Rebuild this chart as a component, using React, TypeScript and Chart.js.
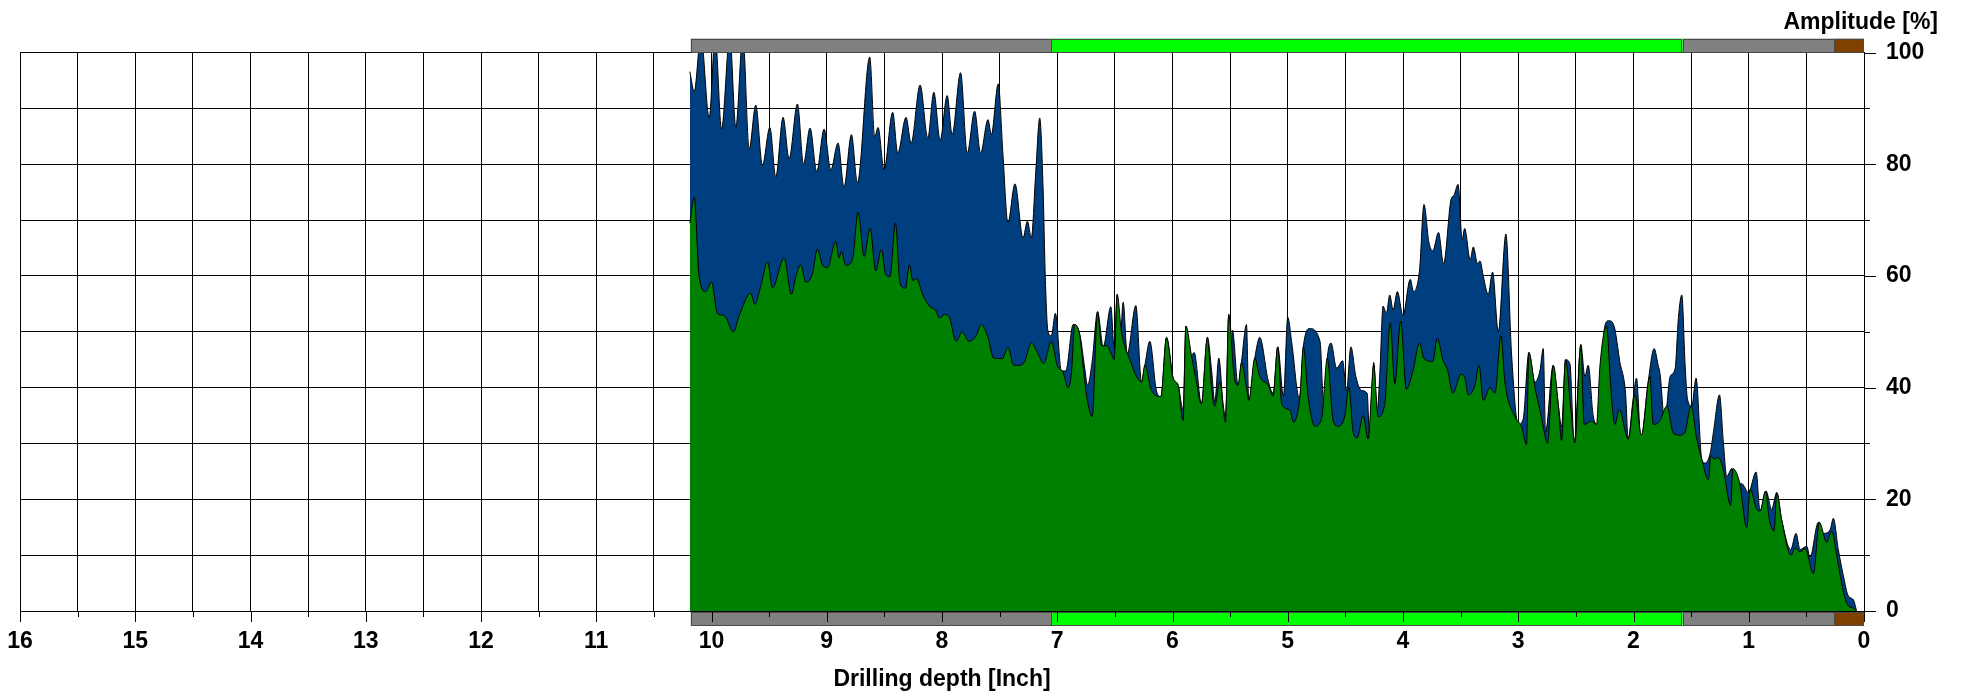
import { useEffect, useRef } from 'react';
import { Chart, registerables } from 'chart.js';

Chart.register(...registerables);

const FONT = "'Liberation Sans', Arial, Helvetica, sans-serif";

// Maximum amplitude (blue)
const blueDepth = [
  10.188, 10.15, 10.092, 10.02, 9.968, 9.913, 9.841, 9.789, 9.728, 9.673, 9.616, 9.558, 9.494, 9.442, 9.379, 9.327,
  9.254, 9.202, 9.145, 9.087, 9.023, 8.965, 8.902, 8.85, 8.786, 8.734, 8.627, 8.584, 8.555, 8.503, 8.428, 8.384,
  8.312, 8.268, 8.19, 8.123, 8.071, 8.016, 7.955, 7.912, 7.839, 7.781, 7.717, 7.665, 7.601, 7.572, 7.512, 7.471,
  7.428, 7.367, 7.297, 7.259, 7.225, 7.187, 7.152, 7.123, 7.103, 7.08, 7.051, 7.016, 6.964, 6.926, 6.862, 6.804,
  6.761, 6.737, 6.697, 6.65, 6.601, 6.535, 6.506, 6.48, 6.457, 6.428, 6.393, 6.318, 6.269, 6.24, 6.197, 6.139,
  6.101, 6.052, 5.994, 5.951, 5.908, 5.884, 5.835, 5.812, 5.749, 5.697, 5.662, 5.633, 5.598, 5.561, 5.54, 5.512,
  5.494, 5.48, 5.431, 5.402, 5.358, 5.338, 5.286, 5.243, 5.171, 5.127, 5.087, 5.037, 5.0, 4.965, 4.899, 4.865,
  4.813, 4.72, 4.686, 4.657, 4.625, 4.576, 4.524, 4.49, 4.452, 4.409, 4.36, 4.311, 4.29, 4.254, 4.225, 4.2,
  4.173, 4.144, 4.115, 4.086, 4.049, 4.0, 3.937, 3.908, 3.856, 3.818, 3.775, 3.741, 3.692, 3.648, 3.582, 3.559,
  3.522, 3.487, 3.465, 3.417, 3.39, 3.353, 3.332, 3.303, 3.26, 3.223, 3.173, 3.107, 3.058, 3.0, 2.957, 2.908,
  2.855, 2.812, 2.783, 2.763, 2.697, 2.653, 2.624, 2.59, 2.552, 2.514, 2.457, 2.422, 2.393, 2.35, 2.312, 2.277,
  2.249, 2.214, 2.168, 2.119, 2.069, 2.046, 2.003, 1.974, 1.936, 1.873, 1.821, 1.786, 1.769, 1.73, 1.682, 1.639,
  1.61, 1.581, 1.552, 1.532, 1.494, 1.457, 1.408, 1.379, 1.335, 1.306, 1.254, 1.22, 1.191, 1.147, 1.104, 1.061,
  1.003, 0.936, 0.902, 0.85, 0.801, 0.757, 0.714, 0.636, 0.59, 0.555, 0.497, 0.468, 0.396, 0.353, 0.295, 0.266,
  0.223, 0.179, 0.136, 0.092, 0.064,
];
const blueAmp = [
  96.6, 93, 103, 88.3, 103, 86.3, 103, 86.6, 103, 82.7, 90.6, 79.8, 86.6, 77.7, 88.4, 81,
  90.8, 80, 86.5, 78.7, 86.3, 79, 83.8, 75.9, 85.3, 76.7, 99.2, 84.9, 86.6, 79, 89.3, 82,
  88.4, 83.8, 94.2, 84.7, 92.9, 84.3, 92.3, 85.3, 96.4, 82, 89.5, 82, 88, 85.3, 94.4, 81.7,
  69.5, 76.5, 66.8, 69.8, 66.8, 78.4, 88.3, 75.7, 59.2, 50, 49.3, 53.3, 43, 43, 51.3, 49.5,
  43.4, 40.4, 44.7, 53.6, 47.3, 54.5, 47, 56.7, 47, 55.3, 46, 54.7, 41, 44, 48.3, 39.4,
  38.4, 49, 41.7, 40.4, 36, 51, 45.7, 46.3, 37.1, 49, 43.4, 37.5, 45.3, 37, 35, 53.1,
  45, 50.3, 40.4, 44.5, 51.3, 37.7, 45.3, 49, 41.4, 39, 47.3, 38.5, 52.6, 48, 38, 47.3,
  50.6, 48.3, 36, 45.3, 48, 43.5, 44.8, 39.4, 47.3, 42, 39.5, 39, 31, 44.5, 35.5, 43,
  54.6, 53.3, 56.6, 53.9, 57.2, 52.9, 59.4, 57.2, 61.2, 72.8, 66, 64.5, 67.8, 62.2, 73.8, 74.4,
  76.4, 66.5, 68.5, 62.9, 65.2, 62.2, 62.7, 59.9, 56.7, 60.7, 50, 67.5, 46, 33.4, 34.4, 46.3,
  41, 43, 47, 32, 44, 37, 33, 45, 44.3, 30.1, 47.7, 42, 44, 35, 33.4, 43.7,
  51, 52, 51, 44.7, 39, 30.8, 38, 41.7, 30.8, 41, 47, 44, 42.4, 34, 42, 43.4,
  52.6, 56.6, 44, 38, 36.7, 41.7, 27.2, 26.5, 28.2, 32.1, 38.7, 30.1, 24.1, 25.5, 22.8, 22.8,
  21.2, 24.9, 17.9, 21.5, 18.2, 21.2, 16.3, 11, 13.9, 11, 11.6, 9.6, 15.9, 13.9, 14.5, 16.6,
  11, 6.3, 2.7, 2, 0,
];

// Average amplitude (green)
const greenDepth = [
  10.188, 10.15, 10.107, 10.049, 10.0, 9.948, 9.89, 9.809, 9.76, 9.659, 9.624, 9.572, 9.514, 9.471, 9.37, 9.306,
  9.269, 9.225, 9.182, 9.124, 9.081, 9.038, 8.994, 8.922, 8.893, 8.873, 8.835, 8.777, 8.728, 8.676, 8.624, 8.575,
  8.526, 8.488, 8.451, 8.404, 8.364, 8.317, 8.283, 8.254, 8.219, 8.167, 8.109, 8.057, 8.022, 7.978, 7.935, 7.877,
  7.825, 7.767, 7.703, 7.659, 7.601, 7.552, 7.477, 7.428, 7.378, 7.326, 7.283, 7.225, 7.181, 7.117, 7.051, 7.001,
  6.949, 6.906, 6.878, 6.849, 6.804, 6.77, 6.746, 6.697, 6.65, 6.615, 6.572, 6.529, 6.506, 6.48, 6.443, 6.37,
  6.312, 6.269, 6.24, 6.182, 6.101, 6.052, 5.994, 5.951, 5.908, 5.884, 5.835, 5.801, 5.749, 5.697, 5.662, 5.633,
  5.59, 5.54, 5.512, 5.465, 5.431, 5.402, 5.358, 5.338, 5.286, 5.243, 5.171, 5.127, 5.087, 5.052, 4.98, 4.951,
  4.893, 4.865, 4.821, 4.764, 4.706, 4.657, 4.605, 4.562, 4.504, 4.47, 4.432, 4.398, 4.346, 4.303, 4.254, 4.216,
  4.159, 4.11, 4.072, 4.02, 3.971, 3.914, 3.856, 3.821, 3.741, 3.703, 3.654, 3.611, 3.568, 3.496, 3.462, 3.434,
  3.376, 3.341, 3.303, 3.246, 3.202, 3.15, 3.116, 3.029, 2.971, 2.928, 2.908, 2.855, 2.812, 2.769, 2.746, 2.697,
  2.653, 2.624, 2.59, 2.543, 2.509, 2.457, 2.428, 2.364, 2.321, 2.292, 2.234, 2.197, 2.162, 2.124, 2.046, 1.988,
  1.931, 1.858, 1.829, 1.772, 1.711, 1.653, 1.595, 1.552, 1.5, 1.451, 1.408, 1.35, 1.329, 1.301, 1.263, 1.22,
  1.156, 1.139, 1.081, 1.017, 0.988, 0.931, 0.902, 0.855, 0.821, 0.78, 0.757, 0.714, 0.633, 0.598, 0.555, 0.512,
  0.439, 0.387, 0.324, 0.28, 0.237, 0.194, 0.15, 0.084, 0.064,
];
const greenAmp = [
  69.5, 74.1, 59.9, 57.2, 58.9, 53.3, 52.9, 50, 52.9, 56.9, 54.9, 58.2, 62.5, 57.9, 63.2, 56.7,
  59.9, 62, 58.9, 60.4, 64.8, 62, 61.5, 66.2, 63.2, 64.4, 61.9, 62.9, 71.4, 63.5, 68.5, 60.9,
  64.8, 60.2, 59.9, 69.5, 58.6, 57.8, 62, 59.2, 59.5, 56.6, 54.6, 53.9, 52.5, 53.1, 52.5, 48.3,
  50, 48.3, 49.3, 51.3, 49, 45.3, 45.2, 47.2, 44, 44, 44.7, 48, 46.7, 44.3, 48.3, 44,
  42.7, 40, 42.4, 51.3, 49.3, 42.7, 38.7, 34.8, 53.6, 47.5, 47.5, 46, 45, 56.7, 50, 45,
  42, 41, 44, 39.5, 38.4, 49, 41.7, 40.4, 34.1, 51, 45.7, 42, 37.1, 49, 40, 36.7,
  41, 33.8, 53.1, 42, 40.4, 44.5, 40, 37.7, 45.3, 42, 40.5, 38.5, 47.3, 37, 36, 33.8,
  38.7, 47.3, 38, 33.1, 34.5, 45.3, 34, 33.1, 35, 40, 32, 31, 35, 30.8, 44, 34.8,
  37, 51.6, 40.7, 51.9, 39.7, 43, 48, 45.3, 44.7, 48.8, 45, 43, 39, 42.4, 41.7, 38.7,
  40.4, 44, 37.7, 40, 39, 49.3, 41, 34.8, 33, 29.8, 46.3, 40, 36, 31.5, 30, 44,
  37, 30.5, 45, 36, 30.1, 47.7, 33.4, 34, 33.4, 43.7, 51, 40, 33.4, 36.1, 30.8, 38.7,
  31.5, 42, 33.4, 34, 36.7, 31.8, 31.5, 32.1, 36.7, 30.8, 27.2, 23.5, 27.8, 27.2, 27.5, 25.2,
  18.9, 25.5, 23.1, 14.9, 21.8, 18.2, 17.9, 21.5, 16.3, 14.3, 21.2, 16.3, 10, 11.3, 10.6, 11.2,
  6.7, 15.9, 12.3, 14.3, 10, 5, 1.4, 0.4, 0,
];

// Status bars (depth boundaries and colours)
const statusEdges = [10.18, 7.05, 1.573, 0.25, 0];
const statusColors = ['#808080', '#00ff00', '#808080', '#804000'];

const statusPlugin = {
  id: 'statusBars',
  afterDraw(chart: any) {
    const { ctx, chartArea, scales } = chart;
    const xs = scales.x;
    const ys = scales.y;
    ctx.save();
    const rows = [chartArea.top - 14, chartArea.bottom + 1];
    for (const top of rows) {
      for (let i = 0; i < statusColors.length; i++) {
        const x1 = xs.getPixelForValue(statusEdges[i]);
        const x2 = xs.getPixelForValue(statusEdges[i + 1]);
        ctx.fillStyle = statusColors[i];
        ctx.fillRect(x1, top, x2 - x1, 14);
        ctx.strokeStyle = '#4a4a4a';
        ctx.lineWidth = 1;
        ctx.strokeRect(Math.round(x1) + 0.5, Math.round(top) + 0.5, Math.round(x2 - x1) - 1, 13);
      }
    }
    ctx.strokeStyle = '#000';
    ctx.lineWidth = 1;
    ctx.beginPath();
    for (const t of xs.ticks) {
      const px = Math.round(xs.getPixelForValue(t.value)) + 0.5;
      const len = Number.isInteger(t.value) ? 11 : 6;
      ctx.moveTo(px, chartArea.bottom);
      ctx.lineTo(px, chartArea.bottom + len);
    }
    for (const t of ys.ticks) {
      const py = Math.round(ys.getPixelForValue(t.value)) + 0.5;
      const len = t.value % 20 === 0 ? 12 : 6;
      ctx.moveTo(chartArea.right, py);
      ctx.lineTo(chartArea.right + len, py);
    }
    ctx.stroke();
    ctx.restore();
  },
};

export default function App() {
  const ref = useRef<HTMLCanvasElement>(null);
  useEffect(() => {
    const canvas = ref.current;
    if (!canvas) return;
    const font = { family: FONT, size: 23, weight: 'bold' as const };
    const chart = new Chart(canvas, {
      type: 'line',
      data: {
        datasets: [
          {
            label: 'Average',
            data: greenDepth.map((x, i) => ({ x, y: greenAmp[i] })),
            backgroundColor: '#008000',
            borderColor: '#000',
            borderWidth: 1,
            fill: 'origin',
            pointRadius: 0,
            cubicInterpolationMode: 'monotone',
            order: 0,
          },
          {
            label: 'Maximum',
            data: blueDepth.map((x, i) => ({ x, y: blueAmp[i] })),
            backgroundColor: '#003f7f',
            borderColor: '#000',
            borderWidth: 1,
            fill: 'origin',
            pointRadius: 0,
            cubicInterpolationMode: 'monotone',
            order: 1,
          },
        ],
      },
      options: {
        responsive: false,
        animation: false,
        layout: { padding: { left: 20, right: 25, top: 0, bottom: 0 } },
        plugins: {
          legend: { display: false },
          tooltip: { enabled: false },
          title: {
            display: true,
            text: 'Amplitude [%]',
            align: 'end',
            color: '#000',
            font,
            padding: { top: 8.8, bottom: 16.2 },
          },
        },
        scales: {
          x: {
            type: 'linear',
            position: 'bottom',
            reverse: true,
            min: 0,
            max: 16,
            ticks: {
              stepSize: 0.5,
              autoSkip: false,
              maxRotation: 0,
              padding: 16.5,
              color: '#000',
              font,
              callback: (v: any) => (Number.isInteger(Number(v)) ? String(v) : ''),
            },
            grid: { color: '#000', lineWidth: 1, drawTicks: false },
            border: { display: true, color: '#000' },
            title: {
              display: true,
              text: 'Drilling depth [Inch]',
              color: '#000',
              font,
              padding: { top: 0, bottom: 0.5 },
            },
            afterFit: (s: any) => {
              s.height = 83;
              s.paddingLeft = 0;
              s.paddingRight = 0;
            },
          },
          y: {
            type: 'linear',
            position: 'right',
            min: 0,
            max: 100,
            ticks: {
              stepSize: 10,
              padding: 22,
              color: '#000',
              font,
              callback: (v: any) => (Number(v) % 20 === 0 ? String(v) : ''),
            },
            grid: { color: '#000', lineWidth: 1, drawTicks: false },
            border: { display: true, color: '#000' },
            afterFit: (s: any) => {
              s.width = 74;
              s.paddingTop = 0;
              s.paddingBottom = 0;
            },
          },
        },
      },
      plugins: [statusPlugin],
    } as any);
    return () => chart.destroy();
  }, []);
  return (
    <div style={{ position: 'fixed', left: 0, top: 0, width: 1963, height: 694, background: '#fff' }}>
      <canvas ref={ref} width={1963} height={694} style={{ display: 'block' }} />
    </div>
  );
}
